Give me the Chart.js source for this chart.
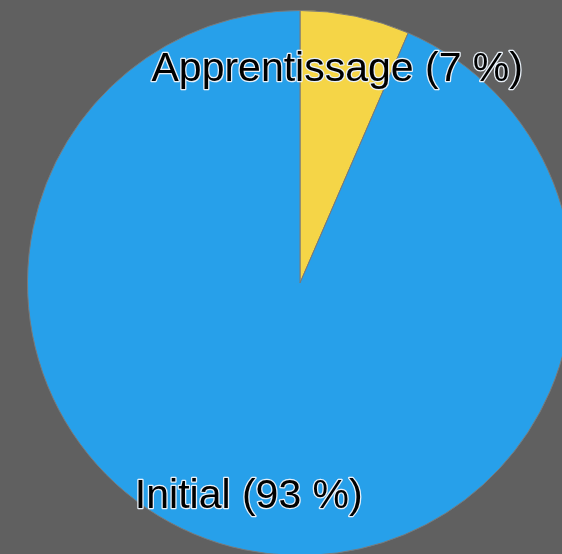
<!DOCTYPE html>
<html>
<head>
<meta charset="utf-8">
<script src="https://cdn.jsdelivr.net/npm/chart.js@4"></script>
<style>
    html, body { margin: 0; padding: 0; background: #606060; overflow: hidden; }
    #wrap { width: 600px; height: 556px; }
</style>
</head>
<body>
<div id="wrap"><canvas id="pieChart"></canvas></div>
<script>
const categories = ['Apprentissage', 'Initial'];
const values = [6.5, 93.5];
const percentLabels = ['7 %', '93 %'];
const colors = ['#f5d547', '#27a0ea'];

// draw "Name (xx %)" at 80% of the radius on each slice's mid angle
const sliceLabels = {
    id: 'sliceLabels',
    afterDatasetsDraw(chart) {
        const ctx = chart.ctx;
        const meta = chart.getDatasetMeta(0);
        ctx.save();
        ctx.font = '41px "Liberation Sans", Arial, sans-serif';
        ctx.textAlign = 'center';
        ctx.textBaseline = 'middle';
        ctx.lineJoin = 'round';
        meta.data.forEach((arc, i) => {
            const mid = (arc.startAngle + arc.endAngle) / 2;
            const r = arc.outerRadius * 0.8;
            const x = arc.x + Math.cos(mid) * r - 7;
            const y = arc.y + Math.sin(mid) * r;
            const text = `${categories[i]} (${percentLabels[i]})`;
            ctx.strokeStyle = '#e8f0f8';
            ctx.lineWidth = 2.5;
            ctx.strokeText(text, x, y);
            ctx.fillStyle = '#000000';
            ctx.fillText(text, x, y);
        });
        ctx.restore();
    }
};

new Chart(document.getElementById('pieChart'), {
    type: 'pie',
    data: {
        labels: categories,
        datasets: [{
            data: values,
            backgroundColor: colors,
            borderColor: '#7a7a7a',
            borderWidth: 1
        }]
    },
    options: {
        responsive: true,
        maintainAspectRatio: false,
        animation: false,
        layout: { padding: { top: 10, bottom: 0 } },
        plugins: {
            legend: { display: false },
            tooltip: { enabled: false }
        }
    },
    plugins: [sliceLabels]
});
</script>
</body>
</html>
